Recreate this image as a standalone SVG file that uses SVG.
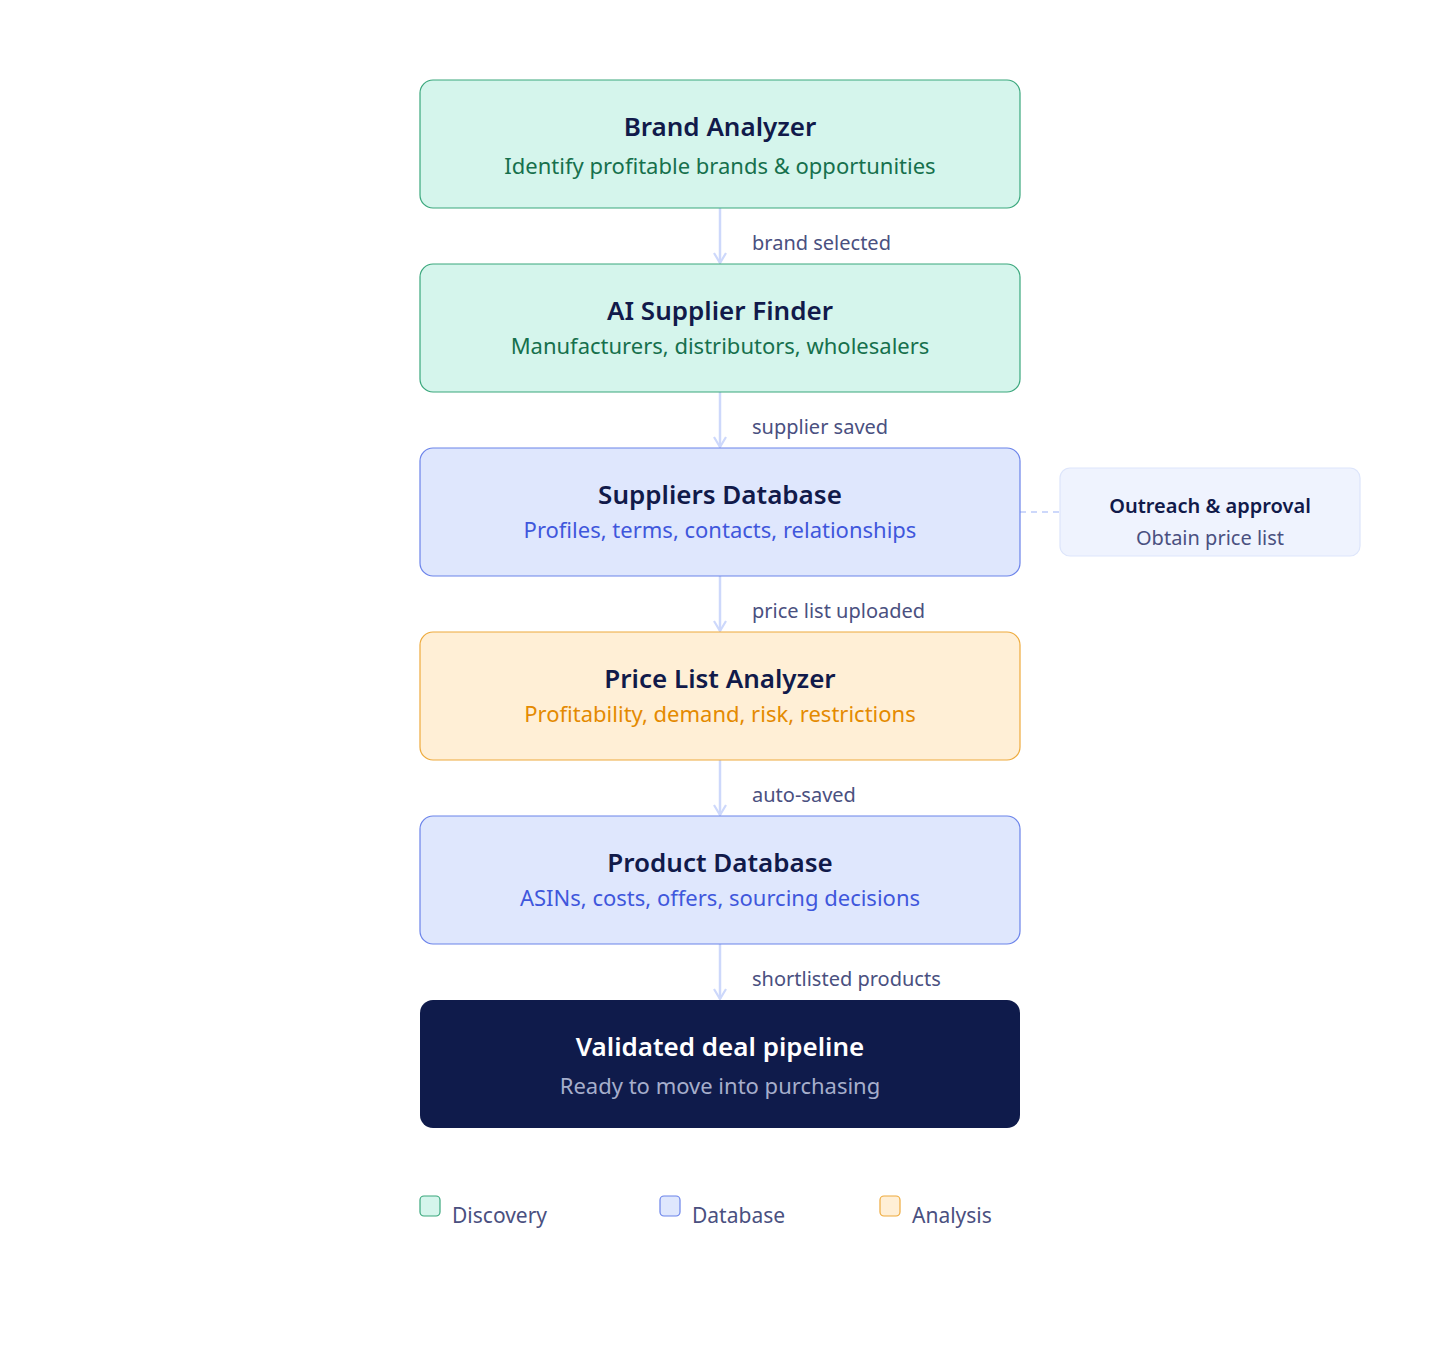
<svg xmlns="http://www.w3.org/2000/svg" width="1440" height="1360" viewBox="0 0 1440 1360">
<style>
text{font-family:"Noto Sans","Open Sans",sans-serif;text-anchor:middle}
.t{font-size:26px;font-weight:600;fill:#111a4a}
.s{font-size:22px}
.lbl{font-size:20px;fill:#4a5080;text-anchor:start}
.disc{fill:#d5f5ec;stroke:#3aa77c;stroke-width:1.2}
.db{fill:#dfe7fd;stroke:#6b83ea;stroke-width:1.2}
.an{fill:#ffefd6;stroke:#eeaa3c;stroke-width:1.2}
.ln{stroke:#cdd8fb;stroke-width:2.5;fill:none}
.leg{font-size:21px;fill:#4a5080;text-anchor:start}
</style>
<defs><marker id="ah" viewBox="0 0 12 14" refX="11" refY="7" markerWidth="12" markerHeight="14" markerUnits="userSpaceOnUse" orient="auto"><path d="M1,1 L11,7 L1,13" fill="none" stroke="#cdd8fb" stroke-width="2.2"/></marker></defs>
<rect width="1440" height="1360" fill="#fff"/>
<g id="connectors">
<line class="ln" x1="720" y1="208" x2="720" y2="263" marker-end="url(#ah)"/>
<line class="ln" x1="720" y1="392" x2="720" y2="447" marker-end="url(#ah)"/>
<line class="ln" x1="720" y1="576" x2="720" y2="631" marker-end="url(#ah)"/>
<line class="ln" x1="720" y1="760" x2="720" y2="815" marker-end="url(#ah)"/>
<line class="ln" x1="720" y1="944" x2="720" y2="999" marker-end="url(#ah)"/>
<line x1="1020" y1="512" x2="1060" y2="512" stroke="#cdd8fb" stroke-width="2" stroke-dasharray="6,5"/>
<text class="lbl" x="752" y="250">brand selected</text>
<text class="lbl" x="752" y="434">supplier saved</text>
<text class="lbl" x="752" y="618">price list uploaded</text>
<text class="lbl" x="752" y="802">auto-saved</text>
<text class="lbl" x="752" y="986">shortlisted products</text>
</g>
<g id="brand"><rect class="disc" x="420" y="80" width="600" height="128" rx="13"/><text class="t" x="720" y="136">Brand Analyzer</text><text class="s" x="720" y="174" fill="#16704c">Identify profitable brands &amp; opportunities</text></g>
<g id="finder"><rect class="disc" x="420" y="264" width="600" height="128" rx="13"/><text class="t" x="720" y="320">AI Supplier Finder</text><text class="s" x="720" y="354" fill="#16704c">Manufacturers, distributors, wholesalers</text></g>
<g id="suppdb"><rect class="db" x="420" y="448" width="600" height="128" rx="13"/><text class="t" x="720" y="504">Suppliers Database</text><text class="s" x="720" y="538" fill="#3f57dc">Profiles, terms, contacts, relationships</text></g>
<g id="outreach"><rect x="1060" y="468" width="300" height="88" rx="10" fill="#eff3fe" stroke="#dde5fb" stroke-width="1.2"/><text x="1210" y="513" style="font-size:20px;font-weight:600;fill:#111a4a">Outreach &amp; approval</text><text x="1210" y="545" style="font-size:20px;fill:#4a5080">Obtain price list</text></g>
<g id="pricelist"><rect class="an" x="420" y="632" width="600" height="128" rx="13"/><text class="t" x="720" y="688">Price List Analyzer</text><text class="s" x="720" y="722" fill="#e48a00">Profitability, demand, risk, restrictions</text></g>
<g id="proddb"><rect class="db" x="420" y="816" width="600" height="128" rx="13"/><text class="t" x="720" y="872">Product Database</text><text class="s" x="720" y="906" fill="#3f57dc">ASINs, costs, offers, sourcing decisions</text></g>
<g id="pipeline"><rect x="420" y="1000" width="600" height="128" rx="13" fill="#0f1b4b"/><text class="t" x="720" y="1056" style="fill:#fff">Validated deal pipeline</text><text class="s" x="720" y="1094" fill="#a6aecb">Ready to move into purchasing</text></g>
<g id="legend">
<rect class="disc" x="420" y="1196" width="20" height="20" rx="4"/><text class="leg" x="452" y="1223">Discovery</text>
<rect class="db" x="660" y="1196" width="20" height="20" rx="4"/><text class="leg" x="692" y="1223">Database</text>
<rect class="an" x="880" y="1196" width="20" height="20" rx="4"/><text class="leg" x="912" y="1223">Analysis</text>
</g>
</svg>
